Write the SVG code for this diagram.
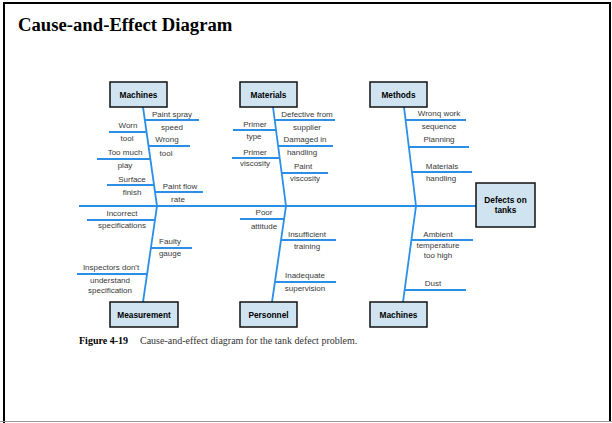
<svg xmlns="http://www.w3.org/2000/svg" width="612" height="423" viewBox="0 0 612 423">
<style>
.box{fill:#cfe3f1;stroke:#111;stroke-width:1.5}
.bl{font-family:"Liberation Sans",Arial,sans-serif;font-size:8.3px;font-weight:bold;fill:#000;text-anchor:middle}
.t{font-family:"Liberation Sans",Arial,sans-serif;font-size:8px;fill:#3a3a3a;text-anchor:middle}
.ln{stroke:#2b8fe8;stroke-width:1.8;fill:none}
.title{font-family:"Liberation Serif","Times New Roman",serif;font-size:18.7px;font-weight:bold;fill:#000}
.cap{font-family:"Liberation Serif","Times New Roman",serif;font-size:10px;fill:#333}
</style>
<rect x="0" y="0" width="612" height="423" fill="#fff"/>
<g id="frame">
<line x1="3" y1="3" x2="611" y2="3" stroke="#000" stroke-width="2"/>
<line x1="4" y1="2" x2="4" y2="423" stroke="#000" stroke-width="2"/>
<line x1="610" y1="2" x2="610" y2="422" stroke="#000" stroke-width="2"/>
<line x1="0" y1="421.5" x2="612" y2="421.5" stroke="#999" stroke-width="1"/>
</g>
<text class="title" x="18" y="31">Cause-and-Effect Diagram</text>

<g id="connectors">
<line class="ln" x1="79" y1="206" x2="476" y2="206"/>
<line class="ln" x1="143" y1="107" x2="157" y2="206"/>
<line class="ln" x1="157" y1="206" x2="143" y2="302"/>
<line class="ln" x1="273" y1="107" x2="286" y2="206"/>
<line class="ln" x1="286" y1="206" x2="272" y2="302"/>
<line class="ln" x1="404" y1="107" x2="416" y2="206"/>
<line class="ln" x1="416" y1="206" x2="403" y2="302"/>
<!-- Machines top -->
<line class="ln" x1="145" y1="120" x2="199" y2="120"/>
<line class="ln" x1="109" y1="132" x2="146.5" y2="132"/>
<line class="ln" x1="148" y1="146" x2="190" y2="146"/>
<line class="ln" x1="97" y1="159" x2="150.5" y2="159"/>
<line class="ln" x1="107" y1="185" x2="154" y2="185"/>
<line class="ln" x1="155" y1="192" x2="203" y2="192"/>
<!-- Measurement -->
<line class="ln" x1="87" y1="220" x2="155" y2="220"/>
<line class="ln" x1="151" y1="248" x2="192" y2="248"/>
<line class="ln" x1="77" y1="274" x2="147" y2="274"/>
<!-- Materials -->
<line class="ln" x1="274.5" y1="120" x2="335" y2="120"/>
<line class="ln" x1="233" y1="130" x2="276" y2="130"/>
<line class="ln" x1="278" y1="146" x2="333" y2="146"/>
<line class="ln" x1="232" y1="158" x2="279.7" y2="158"/>
<line class="ln" x1="281.5" y1="173" x2="328" y2="173"/>
<!-- Methods -->
<line class="ln" x1="405.5" y1="120" x2="466" y2="120"/>
<line class="ln" x1="408.5" y1="147" x2="469" y2="147"/>
<line class="ln" x1="411.5" y1="172" x2="472" y2="172"/>
<!-- Personnel -->
<line class="ln" x1="240" y1="219" x2="284" y2="219"/>
<line class="ln" x1="281" y1="240" x2="336" y2="240"/>
<line class="ln" x1="275" y1="282" x2="336" y2="282"/>
<!-- Machines bottom -->
<line class="ln" x1="411.4" y1="240" x2="473" y2="240"/>
<line class="ln" x1="404.6" y1="290" x2="466" y2="290"/>
</g>

<g id="machines-top">
<rect class="box" x="110" y="82" width="57" height="25"/>
<text class="bl" x="138.5" y="97.5">Machines</text>
</g>
<g id="materials">
<rect class="box" x="240" y="82" width="57" height="25"/>
<text class="bl" x="268.5" y="97.5">Materials</text>
</g>
<g id="methods">
<rect class="box" x="370" y="82" width="57" height="25"/>
<text class="bl" x="398.5" y="97.5">Methods</text>
</g>
<g id="defects">
<rect class="box" x="476" y="183" width="59" height="44"/>
<text class="bl" x="505.5" y="203">Defects on</text>
<text class="bl" x="505.5" y="213">tanks</text>
</g>
<g id="measurement">
<rect class="box" x="110" y="302" width="68" height="25"/>
<text class="bl" x="144" y="317.5">Measurement</text>
</g>
<g id="personnel">
<rect class="box" x="240" y="302" width="57" height="25"/>
<text class="bl" x="268.5" y="317.5">Personnel</text>
</g>
<g id="machines-bottom">
<rect class="box" x="370" y="302" width="57" height="25"/>
<text class="bl" x="398.5" y="317.5">Machines</text>
</g>

<g id="causes">
<text class="t" x="172" y="117">Paint spray</text>
<text class="t" x="172" y="130">speed</text>
<text class="t" x="128" y="128">Worn</text>
<text class="t" x="127" y="141">tool</text>
<text class="t" x="167" y="142">Wrong</text>
<text class="t" x="166" y="156">tool</text>
<text class="t" x="125" y="155">Too much</text>
<text class="t" x="125" y="168">play</text>
<text class="t" x="132" y="182">Surface</text>
<text class="t" x="132" y="195">finish</text>
<text class="t" x="180" y="189">Paint flow</text>
<text class="t" x="178" y="202">rate</text>

<text class="t" x="122" y="216">Incorrect</text>
<text class="t" x="122" y="228">specifications</text>
<text class="t" x="170" y="244">Faulty</text>
<text class="t" x="170" y="256">gauge</text>
<text class="t" x="111" y="270">Inspectors don't</text>
<text class="t" x="110" y="283">understand</text>
<text class="t" x="110" y="293">specification</text>

<text class="t" x="307" y="117">Defective from</text>
<text class="t" x="307" y="130">supplier</text>
<text class="t" x="255" y="127">Primer</text>
<text class="t" x="254" y="139">type</text>
<text class="t" x="305" y="142">Damaged in</text>
<text class="t" x="302" y="155">handling</text>
<text class="t" x="255" y="155">Primer</text>
<text class="t" x="255" y="166">viscosity</text>
<text class="t" x="303" y="169">Paint</text>
<text class="t" x="305" y="181">viscosity</text>

<text class="t" x="439" y="116">Wronq work</text>
<text class="t" x="439" y="129">sequence</text>
<text class="t" x="439" y="142">Planning</text>
<text class="t" x="442" y="169">Materials</text>
<text class="t" x="441" y="181">handling</text>

<text class="t" x="264" y="215">Poor</text>
<text class="t" x="264" y="229">attitude</text>
<text class="t" x="307" y="237">Insufficient</text>
<text class="t" x="307" y="249">training</text>
<text class="t" x="305" y="278">Inadequate</text>
<text class="t" x="305" y="291">supervision</text>

<text class="t" x="438" y="237">Ambient</text>
<text class="t" x="438" y="248">temperature</text>
<text class="t" x="438" y="258">too high</text>
<text class="t" x="433" y="286">Dust</text>
</g>

<text class="cap" x="79" y="344"><tspan font-weight="bold" fill="#000">Figure 4-19</tspan><tspan x="140">Cause-and-effect diagram for the tank defect problem.</tspan></text>
</svg>
